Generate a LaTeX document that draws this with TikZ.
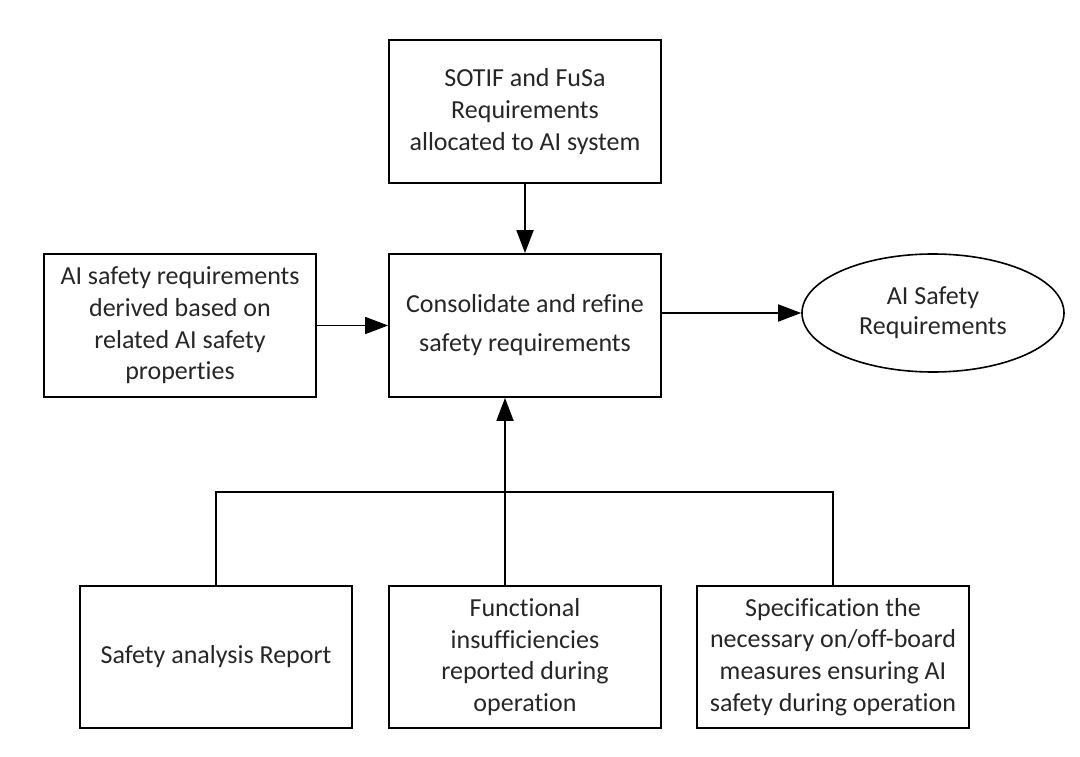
\documentclass[tikz,border=0pt]{standalone}
\usepackage{fontspec}
\setmainfont{Carlito}[Ligatures=NoCommon]
\usetikzlibrary{arrows.meta,shapes.geometric}
\definecolor{txt}{HTML}{262626}
\tikzset{
  box/.style={draw, line width=1.8pt, inner sep=0pt, minimum width=272pt, minimum height=143pt,
    align=center, text=txt, font=\fontsize{26}{31.7}\selectfont},
  ell/.style={draw, ellipse, line width=1.6pt, inner sep=0pt, minimum width=262pt, minimum height=118pt,
    align=center, text=txt, font=\fontsize{26}{30}\selectfont},
  conn/.style={line width=1.8pt},
  arr/.style={line width=1.8pt, -{Triangle[length=23pt,width=17pt]}}
}
\begin{document}
\begin{tikzpicture}[x=1pt,y=-1pt]
\useasboundingbox (0,0) rectangle (1080,757);
\node[box] (top) at (525,111.5) {SOTIF and FuSa\\Requirements\\allocated to AI system};
\node[box, font=\fontsize{26}{39}\selectfont] (mid) at (525,325.5) {Consolidate and refine\\safety requirements};
\node[box] (left) at (180,325.5) {AI safety requirements\\derived based on\\related AI safety\\properties};
\node[ell] (out) at (933,313) {AI Safety\\Requirements};
\node[box, minimum height=142pt] (bl) at (216,657) {Safety analysis Report};
\node[box, minimum height=142pt] (bm) at (525,657) {Functional\\insufficiencies\\reported during\\operation};
\node[box, minimum height=142pt] (br) at (833,657) {Specification the\\necessary on/off-board\\measures ensuring AI\\safety during operation};
\coordinate (bus) at (505,492);
\draw[arr] (top) -- (mid);
\draw[arr] (left) -- (mid);
\draw[arr] (mid.east |- out.west) -- (out.west);
\draw[conn] (bl.north) -- (bl.north |- bus) -- (br.north |- bus) -- (br.north);
\draw[arr] (bm.north -| bus) -- (mid.south -| bus);
\end{tikzpicture}
\end{document}
